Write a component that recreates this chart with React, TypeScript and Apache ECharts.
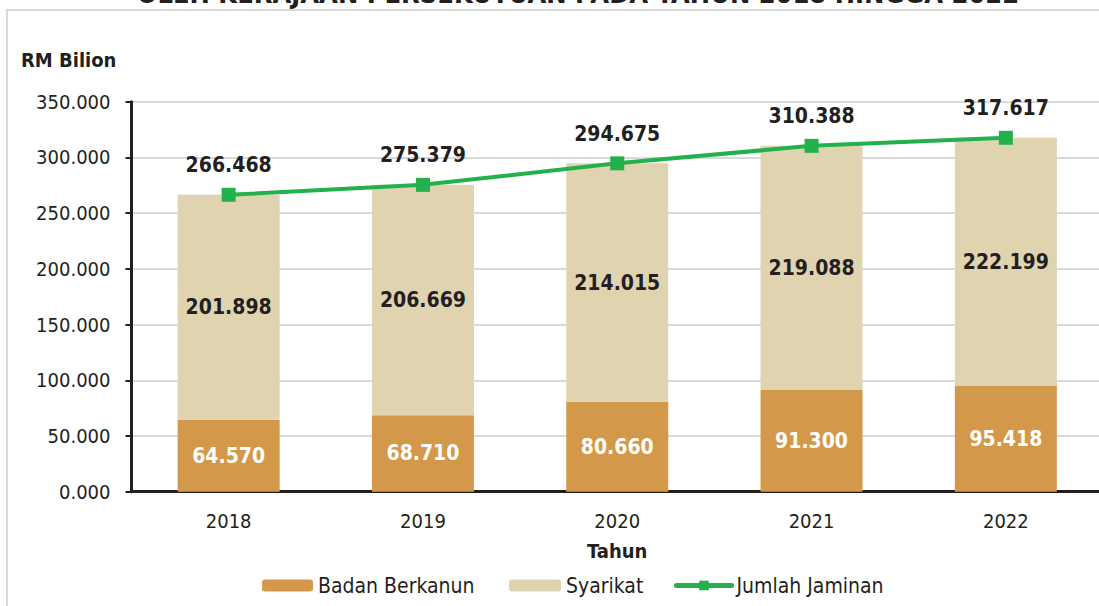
import React, { useEffect, useRef } from "react";
import * as echarts from "echarts";

const years = ["2018", "2019", "2020", "2021", "2022"];
const badanBerkanun = [64.57, 68.71, 80.66, 91.3, 95.418];
const syarikat = [201.898, 206.669, 214.015, 219.088, 222.199];
const jumlahJaminan = [266.468, 275.379, 294.675, 310.388, 317.617];
const yTicks = { min: 0, max: 350, interval: 50 };

const FONT = '"DejaVu Sans Condensed", "DejaVu Sans", sans-serif';
const DARK = "#231f20";
const ORANGE = "#d4984a";
const BEIGE = "#e0d3b0";
const GREEN = "#22b14c";

const fmt = (v: number) => v.toFixed(3);

export default function App() {
  const ref = useRef<HTMLDivElement>(null);
  useEffect(() => {
    if (!ref.current) return;
    const chart = echarts.init(ref.current, undefined, { renderer: "svg" });
    const legendText = { fontSize: 21, color: DARK, fontFamily: FONT };
    chart.setOption({
      animation: false,
      textStyle: { fontFamily: FONT },
      graphic: [
        {
          type: "rect",
          shape: { x: 7, y: 30, width: 1300, height: 800 },
          style: { fill: "none", stroke: "#d9d9d9", lineWidth: 2 },
          z: 0,
        },
        {
          type: "text",
          x: 578,
          y: 13,
          style: {
            text: "OLEH KERAJAAN PERSEKUTUAN PADA TAHUN 2018 HINGGA 2022",
            font: `bold 27px ${FONT}`,
            fill: DARK,
            align: "center",
            verticalAlign: "middle",
          },
        },
        {
          type: "text",
          x: 21,
          y: 80,
          style: {
            text: "RM Bilion",
            font: `bold 20px ${FONT}`,
            fill: DARK,
            align: "left",
            verticalAlign: "middle",
          },
        },
      ],
      grid: { left: 131.5, right: 17, top: 121.7, bottom: 128.3, containLabel: false },
      legend: [
        {
          data: ["Badan Berkanun"],
          left: 257,
          top: 590,
          itemWidth: 51,
          itemHeight: 12,
          textStyle: legendText,
        },
        {
          data: ["Syarikat"],
          left: 504,
          top: 590,
          itemWidth: 52,
          itemHeight: 12,
          textStyle: legendText,
        },
        {
          data: ["Jumlah Jaminan"],
          left: 669,
          top: 590,
          itemWidth: 55,
          itemHeight: 12,
          lineStyle: { width: 5, cap: "round" },
          textStyle: legendText,
        },
      ],
      xAxis: {
        type: "category",
        data: years,
        name: "Tahun",
        nameLocation: "middle",
        nameGap: 49,
        nameTextStyle: { fontSize: 20, fontWeight: "bold", color: DARK, fontFamily: FONT },
        axisLine: { lineStyle: { color: DARK, width: 3 } },
        axisTick: { show: false },
        axisLabel: { fontSize: 20, color: DARK, margin: 19, fontFamily: FONT },
      },
      yAxis: {
        type: "value",
        min: yTicks.min,
        max: yTicks.max,
        interval: yTicks.interval,
        axisLine: { show: true, lineStyle: { color: DARK, width: 3 } },
        axisTick: { show: true, length: 6, lineStyle: { color: DARK, width: 2 } },
        axisLabel: { fontSize: 20, color: DARK, margin: 21, formatter: (v: number) => fmt(v), fontFamily: FONT },
        splitLine: { lineStyle: { color: "#d9d9d9", width: 2 } },
      },
      series: [
        {
          name: "Badan Berkanun",
          type: "bar",
          stack: "total",
          data: badanBerkanun,
          barWidth: 102,
          itemStyle: { color: ORANGE },
          label: {
            show: true,
            position: "inside",
            formatter: (p: any) => fmt(p.value),
            color: "#ffffff",
            fontSize: 21,
            fontWeight: "bold",
            fontFamily: FONT,
          },
        },
        {
          name: "Syarikat",
          type: "bar",
          stack: "total",
          data: syarikat,
          barWidth: 102,
          itemStyle: { color: BEIGE },
          label: {
            show: true,
            position: "inside",
            formatter: (p: any) => fmt(p.value),
            color: DARK,
            fontSize: 21,
            fontWeight: "bold",
            fontFamily: FONT,
          },
        },
        {
          name: "Jumlah Jaminan",
          type: "line",
          data: jumlahJaminan,
          symbol: "rect",
          symbolSize: 14,
          z: 5,
          itemStyle: { color: GREEN },
          lineStyle: { color: GREEN, width: 4 },
          label: {
            show: true,
            position: "top",
            distance: 12,
            formatter: (p: any) => fmt(p.value),
            color: DARK,
            fontSize: 21,
            fontWeight: "bold",
            fontFamily: FONT,
          },
        },
      ],
    });
    return () => chart.dispose();
  }, []);
  return (
    <div style={{ position: "absolute", left: 0, top: 0, width: 1099, height: 606, overflow: "hidden", background: "#fff" }}>
      <div ref={ref} style={{ position: "absolute", left: 0, top: -20, width: 1120, height: 640 }} />
    </div>
  );
}
